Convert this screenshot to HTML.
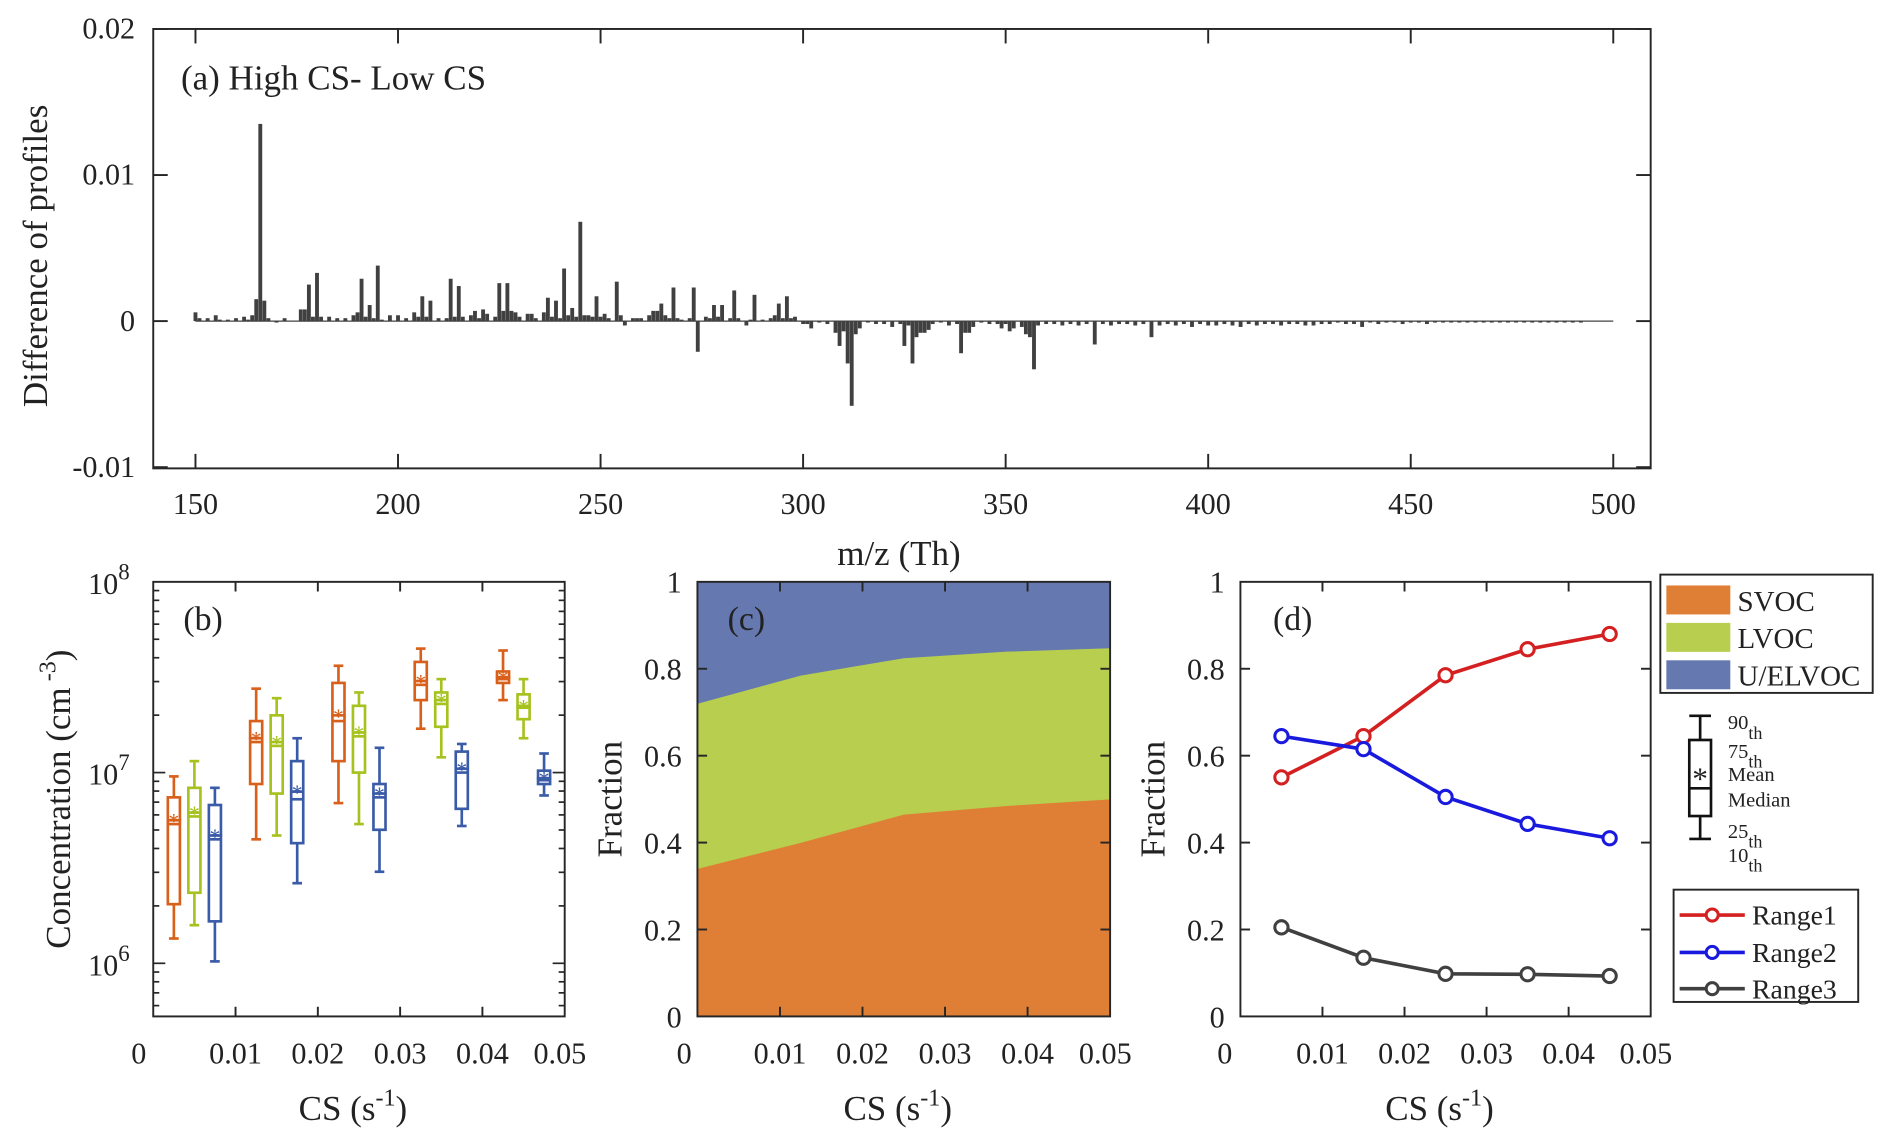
<!DOCTYPE html>
<html><head><meta charset="utf-8">
<style>
html,body{margin:0;padding:0;background:#fff;}
svg{display:block;font-family:"Liberation Serif","DejaVu Serif",serif;}
</style></head>
<body>
<svg id="fig" width="1892" height="1148" viewBox="0 0 1568 951" preserveAspectRatio="none" xmlns="http://www.w3.org/2000/svg" fill="#222">
<g id="ga"></g>
<g id="gb"></g>
<g id="gc"></g>
<g id="gd"></g>
<g id="gl"></g>
</svg>
<script>
// ---------- Panel (a) data ----------
const barMz = [150,151,153,155,156,158,160,162,163,164,165,166,167,168,170,172,176,177,178,179,180,181,183,185,187,189,190,191,192,193,194,195,196,198,200,202,204,205,206,207,208,210,212,213,214,215,216,218,219,220,221,222,224,225,226,227,228,229,230,232,233,234,236,237,238,239,240,241,242,243,244,245,246,247,248,249,250,251,252,254,255,256,258,259,260,262,263,264,265,266,267,268,269,270,272,273,274,276,277,278,279,280,282,283,284,286,287,288,290,292,293,294,295,296,297,298,300,301,302,304,306,308,309,310,311,312,313,314,316,318,320,322,324,325,326,327,328,329,330,331,332,334,336,338,339,340,341,342,344,346,348,349,350,351,352,354,355,356,357,358,360,362,364,366,368,370,372,374,376,378,380,382,384,386,388,390,392,394,396,398,400,402,404,406,408,410,412,414,416,418,420,422,424,426,428,430,432,434,436,438,440,442,444,446,448,450,452,454,456,458,460,462,464,466,468,470,472,474,476,478,480,482,484,486,488,490,492,494,496,498,500];
const barVal = [0.0006,0.0002,0.0002,0.0004,0.0001,0.0001,0.0002,0.0003,0.0001,0.0004,0.0015,0.0135,0.0014,0.0002,-0.0001,0.0002,0.0008,0.0008,0.0025,0.0003,0.0033,0.0003,0.0003,0.0002,0.0002,0.0004,0.0006,0.0029,0.0003,0.0011,0.0002,0.0038,0.0001,0.0004,0.0004,0.0002,0.0006,0.0003,0.0017,0.0003,0.0014,0.0002,0.0002,0.0029,0.0003,0.0024,0.0003,0.0004,0.0007,0.0002,0.0008,0.0005,0.0003,0.0026,0.0007,0.0026,0.0007,0.0006,0.0003,0.0005,0.0005,0.0002,0.0006,0.0016,0.0003,0.0014,0.0002,0.0036,0.0004,0.0009,0.0003,0.0068,0.0004,0.0004,0.0003,0.0017,0.0003,0.0005,0.0002,0.0027,0.0004,-0.0003,0.0002,0.0002,0.0002,0.0004,0.0007,0.0007,0.0012,0.0004,0.0002,0.0023,0.0002,0.0001,0.0002,0.0023,-0.0021,0.0003,0.0002,0.0011,0.0003,0.0011,0.0002,0.0021,0.0002,-0.0003,0.0001,0.0018,0.0001,0.0002,0.0004,0.0012,0.0002,0.0017,0.0002,0.0003,-0.0002,-0.0002,-0.0005,-0.0001,-0.0002,-0.0008,-0.0017,-0.0007,-0.0029,-0.0058,-0.0009,-0.0005,-0.0001,-0.0002,-0.0002,-0.0004,-0.0002,-0.0017,-0.0003,-0.0029,-0.0011,-0.0008,-0.0008,-0.0006,-0.0002,-0.0001,-0.0003,-0.0002,-0.0022,-0.0008,-0.0008,-0.0004,-0.0001,-0.0002,-0.0002,-0.0005,-0.0002,-0.0007,-0.0005,-0.0004,-0.0009,-0.0011,-0.0033,-0.0003,-0.0002,-0.0002,-0.0003,-0.0002,-0.0003,-0.0002,-0.0016,-0.0002,-0.0003,-0.0002,-0.0002,-0.0003,-0.0002,-0.0011,-0.0003,-0.0002,-0.0003,-0.0002,-0.0004,-0.0002,-0.0003,-0.0003,-0.0002,-0.0003,-0.0004,-0.0002,-0.0003,-0.0002,-0.0002,-0.0003,-0.0002,-0.0002,-0.0003,-0.0003,-0.0002,-0.0002,-0.0001,-0.0002,-0.0002,-0.0004,-0.0001,-0.0002,-0.0001,-0.0001,-0.0002,-0.0001,-0.0001,-0.0002,-0.0001,-0.0001,-0.0001,-0.0001,-0.0001,-0.0001,-0.0001,-0.0001,-0.0001,-0.0001,-0.0001,-0.0001,-0.0001,-0.0001,-0.0001,-0.0001,-0.0001,-0.0001,-0.0001];
const aXTicks = [150,200,250,300,350,400,450,500];
const aYTicks = [-0.01,0,0.01,0.02];
const aYLabels = ["-0.01","0","0.01","0.02"];

// ---------- Panel (b) data (log10 concentration) ----------
const bCS = [0.005,0.015,0.025,0.035,0.045];
const bSeries = ["SVOC","LVOC","U/ELVOC"];
const bP10 = [[6.13,6.65,6.84,7.23,7.38],[6.20,6.67,6.73,7.08,7.18],[6.01,6.42,6.48,6.72,6.88]];
const bP25 = [[6.31,6.94,7.06,7.38,7.47],[6.37,6.89,7.00,7.24,7.28],[6.22,6.63,6.70,6.81,6.94]];
const bMed = [[6.73,7.16,7.27,7.46,7.49],[6.77,7.14,7.19,7.36,7.34],[6.65,6.86,6.87,7.00,6.96]];
const bMean= [[6.75,7.18,7.30,7.48,7.50],[6.79,7.16,7.21,7.38,7.35],[6.67,6.90,6.89,7.02,6.97]];
const bP75 = [[6.87,7.27,7.47,7.58,7.53],[6.92,7.30,7.35,7.42,7.41],[6.83,7.06,6.94,7.11,7.01]];
const bP90 = [[6.98,7.44,7.56,7.65,7.64],[7.06,7.39,7.42,7.49,7.49],[6.92,7.18,7.13,7.15,7.10]];

// ---------- Panel (c) data ----------
const cCS = [0,0.0125,0.025,0.0375,0.05];
const cSVOC = [0.34,0.40,0.465,0.485,0.50];
const cLVOC = [0.38,0.385,0.36,0.355,0.348];
const cUEL  = [0.28,0.215,0.175,0.16,0.152];

// ---------- Panel (d) data ----------
const dCS = [0.005,0.015,0.025,0.035,0.045];
const dRange1 = [0.55,0.645,0.785,0.845,0.88];
const dRange2 = [0.645,0.615,0.505,0.443,0.41];
const dRange3 = [0.205,0.135,0.098,0.097,0.093];
const fracTicks = [0,0.2,0.4,0.6,0.8,1];
const csTicks = [0,0.01,0.02,0.03,0.04,0.05];

const NS="http://www.w3.org/2000/svg";
function mk(parent,tag,attrs,txt){const e=document.createElementNS(NS,tag);for(const k in attrs)e.setAttribute(k,attrs[k]);if(txt!==undefined)e.textContent=txt;parent.appendChild(e);return e;}

// ===== Panel a =====
const ga=document.getElementById('ga');
const aL=127,aR=1368,aT=24,aB=388;
const ax=v=>162+(v-150)*(1337-162)/350;
const ay=v=>266-v*12100;
barMz.forEach((m,i)=>{const v=barVal[i];const y0=ay(0),y1=ay(v);
 const r=mk(ga,'rect',{x:ax(m)-1.6,y:Math.min(y0,y1),width:3.2,height:Math.max(0.8,Math.abs(y1-y0)),fill:'#404040'});
 
 });
mk(ga,'line',{x1:ax(150),x2:ax(500),y1:ay(0),y2:ay(0),stroke:'#404040','stroke-width':1});
mk(ga,'rect',{x:aL,y:aT,width:aR-aL,height:aB-aT,fill:'none',stroke:'#262626','stroke-width':1.6,});
aXTicks.forEach(t=>{const x=ax(t);mk(ga,'line',{x1:x,x2:x,y1:aB,y2:aB-12,stroke:'#262626','stroke-width':1.6});mk(ga,'line',{x1:x,x2:x,y1:aT,y2:aT+12,stroke:'#262626','stroke-width':1.6});
 const tx=mk(ga,'text',{x:x,y:426,'font-size':25,'text-anchor':'middle'},String(t));});
aYTicks.forEach((t,i)=>{const y=ay(t);mk(ga,'line',{x1:aL,x2:aL+12,y1:y,y2:y,stroke:'#262626','stroke-width':1.6});mk(ga,'line',{x1:aR,x2:aR-12,y1:y,y2:y,stroke:'#262626','stroke-width':1.6});
 const tx=mk(ga,'text',{x:112,y:y+8,'font-size':25,'text-anchor':'end'},aYLabels[i]);});
mk(ga,'text',{x:150,y:74,'font-size':29,},'(a)  High CS- Low CS');
mk(ga,'text',{x:745,y:468,'font-size':29,'text-anchor':'middle',},'m/z (Th)');
mk(ga,'text',{x:0,y:0,'font-size':29,'text-anchor':'middle',transform:'translate(39,212) rotate(-90)',},'Difference of profiles');

// ===== shared cs axis =====
function csAxis(g,L,R,T,B,zeroLab){
 const sx=v=>L+v*(R-L)/0.05;
 csTicks.forEach(t=>{const x=sx(t);
  if(t>0&&t<0.05){mk(g,'line',{x1:x,x2:x,y1:B,y2:B-8,stroke:'#262626','stroke-width':1.6});mk(g,'line',{x1:x,x2:x,y1:T,y2:T+8,stroke:'#262626','stroke-width':1.6});}
  const lx=t===0?zeroLab:x-(t===0.05?4:0);
  const tx=mk(g,'text',{x:lx,y:881,'font-size':25,'text-anchor':'middle'},String(t));});
 const ti=mk(g,'text',{x:(L+R)/2-5,y:928,'font-size':29,'text-anchor':'middle'});
 
 ti.innerHTML='CS (s<tspan dy="-12" font-size="20">-1</tspan><tspan dy="12">)</tspan>';
 return sx;}
function fracAxis(g,L,R,T,B,titleX){
 const sy=v=>B-v*(B-T);
 fracTicks.forEach(t=>{const y=sy(t);
  if(t>0&&t<1){mk(g,'line',{x1:L,x2:L+8,y1:y,y2:y,stroke:'#262626','stroke-width':1.6});mk(g,'line',{x1:R,x2:R-8,y1:y,y2:y,stroke:'#262626','stroke-width':1.6});}
  const tx=mk(g,'text',{x:L-13,y:y+9,'font-size':25,'text-anchor':'end'},String(t));});
 mk(g,'text',{x:0,y:0,'font-size':29,'text-anchor':'middle',transform:`translate(${titleX},662) rotate(-90)`,},'Fraction');
 return sy;}

// ===== Panel b =====
const gb=document.getElementById('gb');
const bL=127,bR=468,bT=482,bB=842;
const bx=v=>bL+v*(bR-bL)/0.05;
const by=lg=>482+(8-lg)*158;
const bColors=['#D9601A','#A6C21E','#3A5BA8'];
const bOff=[-17,0,17];
bSeries.forEach((s,si)=>{bCS.forEach((c,i)=>{
 const x=bx(c)+bOff[si],col=bColors[si],w=5;
 const g=mk(gb,'g',{stroke:col,'stroke-width':2.2,fill:'none'});
 
 
 mk(g,'line',{x1:x,x2:x,y1:by(bP90[si][i]),y2:by(bP75[si][i])});
 mk(g,'line',{x1:x,x2:x,y1:by(bP25[si][i]),y2:by(bP10[si][i])});
 mk(g,'line',{x1:x-4,x2:x+4,y1:by(bP90[si][i]),y2:by(bP90[si][i])});
 mk(g,'line',{x1:x-4,x2:x+4,y1:by(bP10[si][i]),y2:by(bP10[si][i])});
 mk(g,'rect',{x:x-w,y:by(bP75[si][i]),width:2*w,height:by(bP25[si][i])-by(bP75[si][i])});
 mk(g,'line',{x1:x-w,x2:x+w,y1:by(bMed[si][i]),y2:by(bMed[si][i])});
 const my=by(bMean[si][i]);
 mk(g,'line',{x1:x-w-1,x2:x+w+1,y1:my,y2:my});
 mk(g,'text',{x:x,y:my+7,'font-size':18,'text-anchor':'middle',fill:col,stroke:'none'},'*');
});});
mk(gb,'rect',{x:bL,y:bT,width:bR-bL,height:bB-bT,fill:'none',stroke:'#262626','stroke-width':1.6,});
for(let d=5;d<8;d++){for(let k=1;k<10;k++){const lg=d+Math.log10(k);const y=by(lg);if(y>bB||y<bT)continue;const len=k===1?10:5;
 mk(gb,'line',{x1:bL,x2:bL+len,y1:y,y2:y,stroke:'#262626','stroke-width':1.4});mk(gb,'line',{x1:bR,x2:bR-len,y1:y,y2:y,stroke:'#262626','stroke-width':1.4});}}
[8,7,6].forEach(p=>{const t=mk(gb,'text',{x:73,y:by(p)+10,'font-size':25});t.innerHTML='10<tspan dy="-12" font-size="19">'+p+'</tspan>';});
csAxis(gb,bL,bR,bT,bB,115);
mk(gb,'text',{x:152,y:522,'font-size':28,},'(b)');
const bt=mk(gb,'text',{x:0,y:0,'font-size':29,'text-anchor':'middle',transform:'translate(58,662) rotate(-90)'});

bt.innerHTML='Concentration (cm<tspan dy="-12" font-size="20"> -3</tspan><tspan dy="12">)</tspan>';

// ===== Panel c =====
const gc=document.getElementById('gc');
const cL=578,cR=920,cT=482,cB=842;
const cx=v=>cL+v*(cR-cL)/0.05;
const cy=v=>cB-v*(cB-cT);
function areaPath(lo,hi){let d='';cCS.forEach((c,i)=>{d+=(i?'L':'M')+cx(c)+','+cy(hi[i]);});for(let i=cCS.length-1;i>=0;i--)d+='L'+cx(cCS[i])+','+cy(lo[i]);return d+'Z';}
const z=cCS.map(()=>0);
const c1=cSVOC.slice(),c2=cSVOC.map((v,i)=>v+cLVOC[i]),c3=c2.map((v,i)=>v+cUEL[i]);
const pc=[[z,c1,'#DF7F35','area-svoc'],[c1,c2,'#B8CE4E','area-lvoc'],[c2,c3,'#6579B0','area-uelvoc']];
pc.forEach(p=>{const e=mk(gc,'path',{d:areaPath(p[0],p[1]),fill:p[2],stroke:p[2],'stroke-width':0.5});});
mk(gc,'rect',{x:cL,y:cT,width:cR-cL,height:cB-cT,fill:'none',stroke:'#262626','stroke-width':1.6,});
fracAxis(gc,cL,cR,cT,cB,515);
csAxis(gc,cL,cR,cT,cB,567);
mk(gc,'text',{x:603,y:522,'font-size':28,},'(c)');

// ===== Panel d =====
const gd=document.getElementById('gd');
const dL=1028,dR=1368,dT=482,dB=842;
const dx=v=>dL+v*(dR-dL)/0.05;
const dy=v=>dB-v*(dB-dT);
mk(gd,'rect',{x:dL,y:dT,width:dR-dL,height:dB-dT,fill:'none',stroke:'#262626','stroke-width':1.6,});
fracAxis(gd,dL,dR,dT,dB,965);
csAxis(gd,dL,dR,dT,dB,1015);
[[dRange1,'#D42020','line-range1'],[dRange2,'#1A1ADF','line-range2'],[dRange3,'#404040','line-range3']].forEach(s=>{
 const pts=dCS.map((c,i)=>dx(c)+','+dy(s[0][i])).join(' ');
 const pl=mk(gd,'polyline',{points:pts,fill:'none',stroke:s[1],'stroke-width':3});
 
 dCS.forEach((c,i)=>{const m=mk(gd,'circle',{cx:dx(c),cy:dy(s[0][i]),r:5.5,fill:'#fff',stroke:s[1],'stroke-width':2.5});
  });
});
mk(gd,'text',{x:1055,y:522,'font-size':28,},'(d)');

// ===== Legends =====
const gl=document.getElementById('gl');
const lg1=mk(gl,'g',{});
mk(lg1,'rect',{x:1376,y:476,width:176,height:98,fill:'#fff',stroke:'#262626','stroke-width':1.6});
[['SVOC','#DF7F35',485],['LVOC','#B8CE4E',516],['U/ELVOC','#6579B0',547]].forEach(e=>{
 const g=mk(lg1,'g',{});
 mk(g,'rect',{x:1381,y:e[2],width:53,height:24,fill:e[1]});
 mk(g,'text',{x:1440,y:e[2]+21,'font-size':24},e[0]);});
const lb=mk(gl,'g',{});
mk(lb,'line',{x1:1409,x2:1409,y1:593,y2:695,stroke:'#111','stroke-width':2.2});
mk(lb,'line',{x1:1400,x2:1418,y1:593,y2:593,stroke:'#111','stroke-width':2.2});
mk(lb,'line',{x1:1400,x2:1418,y1:695,y2:695,stroke:'#111','stroke-width':2.2});
mk(lb,'rect',{x:1400,y:613,width:18,height:63,fill:'#fff',stroke:'#111','stroke-width':2.2});
mk(lb,'line',{x1:1400,x2:1418,y1:653,y2:653,stroke:'#111','stroke-width':2.2});
mk(lb,'text',{x:1409,y:654,'font-size':26,'text-anchor':'middle'},'*');
[['90',600,true],['75',624,true],['Mean',643,false],['Median',664,false],['25',690,true],['10',710,true]].forEach(e=>{
 const t=mk(lb,'text',{x:1432,y:e[1]+4,'font-size':17});
 t.innerHTML=e[0]+(e[2]?'<tspan dy="8" font-size="15">th</tspan>':'');});
const lg2=mk(gl,'g',{});
mk(lg2,'rect',{x:1387,y:737,width:153,height:93,fill:'#fff',stroke:'#262626','stroke-width':1.6});
[['Range1','#D42020',758],['Range2','#1A1ADF',789],['Range3','#404040',819]].forEach(e=>{
 const g=mk(lg2,'g',{});
 mk(g,'line',{x1:1392,x2:1446,y1:e[2],y2:e[2],stroke:e[1],'stroke-width':3});
 mk(g,'circle',{cx:1419,cy:e[2],r:5,fill:'#fff',stroke:e[1],'stroke-width':2.5});
 mk(g,'text',{x:1452,y:e[2]+8,'font-size':23},e[0]);});
</script>
</body></html>
